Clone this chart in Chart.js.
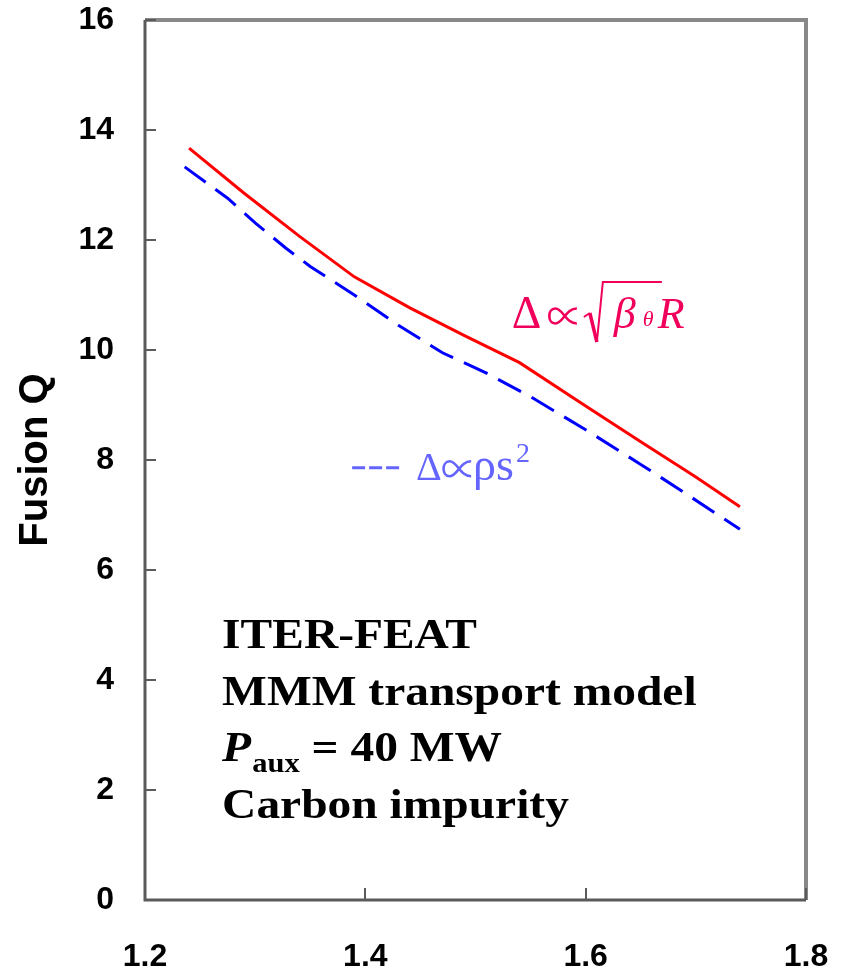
<!DOCTYPE html>
<html>
<head>
<meta charset="utf-8">
<script src="https://cdn.jsdelivr.net/npm/chart.js@4.4.1/dist/chart.umd.min.js"></script>
<style>
  html, body { margin: 0; padding: 0; background: #fff; }
  #wrap { width: 842px; height: 970px; }
</style>
</head>
<body>
<div id="wrap"><canvas id="fusionChart" width="842" height="970"></canvas></div>
<script>
// solid red curve: Delta ~ sqrt(beta_theta) R
const redX = [1.24, 1.29, 1.34, 1.39, 1.44, 1.49, 1.54, 1.60, 1.65, 1.70, 1.74];
const redQ = [13.67, 12.85, 12.07, 11.33, 10.77, 10.26, 9.77, 8.98, 8.33, 7.69, 7.15];

// dashed blue curve: Delta ~ rho s^2
const blueX = [1.236, 1.275, 1.30, 1.328, 1.35, 1.39, 1.43, 1.47, 1.51, 1.55, 1.60, 1.65, 1.69, 1.74];
const blueQ = [13.33, 12.76, 12.31, 11.85, 11.52, 11.00, 10.45, 9.95, 9.58, 9.15, 8.55, 7.92, 7.40, 6.74];

const xTicks = [1.2, 1.4, 1.6, 1.8];
const yTicks = [0, 2, 4, 6, 8, 10, 12, 14, 16];

const yTitle = 'Fusion Q';
const infoLines = ['ITER-FEAT', 'MMM transport model', 'P|aux| = 40 MW', 'Carbon impurity'];

const SANS = "'Liberation Sans', Arial, sans-serif";
const SERIF = "'Liberation Serif', 'Times New Roman', 'DejaVu Serif', serif";

const toPoints = (xs, ys) => xs.map((x, i) => ({ x: x, y: ys[i] }));

// thin "proportional to" sign, the serif fonts here don't have a nice one
const drawProp = (ctx, x, cy, w, h, lw) => {
  ctx.save();
  ctx.lineWidth = lw;
  ctx.beginPath();
  ctx.moveTo(x + w, cy - h);
  ctx.bezierCurveTo(x + w * 0.62, cy - h, x + w * 0.52, cy + h, x + w * 0.26, cy + h);
  ctx.bezierCurveTo(x - w * 0.02, cy + h, x - w * 0.02, cy - h, x + w * 0.26, cy - h);
  ctx.bezierCurveTo(x + w * 0.52, cy - h, x + w * 0.62, cy + h, x + w, cy + h);
  ctx.stroke();
  ctx.restore();
};

// frame + inward ticks
const framePlugin = {
  id: 'frame',
  afterDatasetsDraw(chart) {
    const { ctx, chartArea: a, scales } = chart;
    ctx.save();
    ctx.strokeStyle = '#888';
    ctx.lineWidth = 4;
    ctx.beginPath();
    ctx.moveTo(a.left, a.top);
    ctx.lineTo(a.right, a.top);
    ctx.lineTo(a.right, a.bottom);
    ctx.stroke();

    ctx.strokeStyle = '#5a5a5a';
    ctx.lineWidth = 3;
    ctx.beginPath();
    ctx.moveTo(a.left, a.top);
    ctx.lineTo(a.left, a.bottom);
    ctx.lineTo(a.right, a.bottom);
    ctx.stroke();

    ctx.lineWidth = 2;
    yTicks.forEach(v => {
      const y = Math.round(scales.y.getPixelForValue(v));
      ctx.beginPath();
      ctx.moveTo(a.left, y);
      ctx.lineTo(a.left + 11, y);
      ctx.stroke();
    });
    xTicks.forEach(v => {
      const x = Math.round(scales.x.getPixelForValue(v));
      ctx.beginPath();
      ctx.moveTo(x, a.bottom);
      ctx.lineTo(x, a.bottom - 12);
      ctx.stroke();
    });
    ctx.restore();
  }
};

// text labels inside the plot
const labelPlugin = {
  id: 'labels',
  afterDraw(chart) {
    const { ctx, scales } = chart;
    const px = v => scales.x.getPixelForValue(v);
    const py = v => scales.y.getPixelForValue(v);
    ctx.save();
    ctx.textBaseline = 'alphabetic';
    ctx.textAlign = 'left';

    // red formula
    let x = px(1.533), y = py(10.4);
    ctx.fillStyle = '#f0005a';
    ctx.strokeStyle = '#f0005a';
    ctx.font = `46px ${SERIF}`;
    ctx.fillText('\u0394', x, y);
    drawProp(ctx, x + 36, y - 12, 29, 7.5, 2.6);
    ctx.lineWidth = 2;
    ctx.beginPath();
    ctx.moveTo(x + 72, y - 11);
    ctx.lineTo(x + 78, y - 15);
    ctx.stroke();
    ctx.lineWidth = 3.5;
    ctx.beginPath();
    ctx.moveTo(x + 78, y - 15);
    ctx.lineTo(x + 85, y + 14);
    ctx.stroke();
    ctx.lineWidth = 2;
    ctx.beginPath();
    ctx.moveTo(x + 85, y + 14);
    ctx.lineTo(x + 91, y - 46);
    ctx.lineTo(x + 150, y - 46);
    ctx.stroke();
    ctx.font = `italic 44px ${SERIF}`;
    ctx.fillText('\u03B2', x + 102, y);
    ctx.font = `italic 22px ${SERIF}`;
    ctx.fillText('\u03B8', x + 131, y - 2);
    ctx.font = `italic 44px ${SERIF}`;
    ctx.fillText('R', x + 146, y);

    // blue formula
    x = px(1.388); y = py(7.64);
    ctx.fillStyle = '#6464ff';
    ctx.strokeStyle = '#6464ff';
    ctx.lineWidth = 3;
    ctx.setLineDash([13, 4]);
    ctx.beginPath();
    ctx.moveTo(x, y - 12);
    ctx.lineTo(x + 47, y - 12);
    ctx.stroke();
    ctx.setLineDash([]);
    ctx.font = `40px ${SERIF}`;
    ctx.fillText('\u0394', x + 64, y);
    drawProp(ctx, x + 90, y - 11, 29, 7.5, 2.6);
    ctx.font = `46px ${SERIF}`;
    ctx.fillText('\u03C1s', x + 121, y);
    const w = ctx.measureText('\u03C1s').width;
    ctx.font = `28px ${SERIF}`;
    ctx.fillText('2', x + 121 + w + 2, y - 18);

    // info block
    x = px(1.27); y = py(4.58);
    const sx = 1.13;
    ctx.fillStyle = '#000';
    infoLines.forEach((line, i) => {
      ctx.save();
      ctx.translate(x, y + i * 56.5);
      ctx.scale(sx, 1);
      if (line.includes('|')) {
        const [p, sub, rest] = line.split('|');
        ctx.font = `italic bold 42px ${SERIF}`;
        ctx.fillText(p, 0, 0);
        let cx = ctx.measureText(p).width + 1;
        ctx.font = `bold 27px ${SERIF}`;
        ctx.fillText(sub, cx, 11);
        cx += ctx.measureText(sub).width;
        ctx.font = `bold 42px ${SERIF}`;
        ctx.fillText(rest, cx, 0);
      } else {
        ctx.font = `bold 42px ${SERIF}`;
        ctx.fillText(line, 0, 0);
      }
      ctx.restore();
    });
    ctx.restore();
  }
};

const tickFont = { family: SANS, size: 32, weight: 'bold' };

const noPad = s => {
  s.paddingTop = 0;
  s.paddingBottom = 0;
  s.paddingLeft = 0;
  s.paddingRight = 0;
};

new Chart(document.getElementById('fusionChart'), {
  type: 'line',
  data: {
    datasets: [
      {
        label: 'sqrt(beta) R',
        data: toPoints(redX, redQ),
        borderColor: '#ff0000',
        borderWidth: 3,
        pointRadius: 0,
        tension: 0,
        fill: false
      },
      {
        label: 'rho s^2',
        data: toPoints(blueX, blueQ),
        borderColor: '#0000ff',
        borderWidth: 3,
        borderDash: [26, 12],
        pointRadius: 0,
        tension: 0,
        fill: false
      }
    ]
  },
  options: {
    responsive: false,
    devicePixelRatio: 1,
    animation: false,
    layout: { padding: { top: 20, right: 36, left: 0, bottom: 0 } },
    plugins: {
      legend: { display: false },
      tooltip: { enabled: false }
    },
    scales: {
      x: {
        type: 'linear',
        min: 1.2,
        max: 1.8,
        afterBuildTicks: s => { s.ticks = xTicks.map(v => ({ value: v })); },
        afterFit: s => { s.height = 70; noPad(s); },
        grid: { display: false, drawTicks: false },
        border: { display: false },
        ticks: {
          font: tickFont,
          color: '#000',
          padding: 38,
          maxRotation: 0,
          autoSkip: false,
          callback: v => Number(v).toFixed(1)
        }
      },
      y: {
        min: 0,
        max: 16,
        afterBuildTicks: s => { s.ticks = yTicks.map(v => ({ value: v })); },
        afterFit: s => { s.width = 145; noPad(s); },
        grid: { display: false, drawTicks: false },
        border: { display: false },
        ticks: {
          font: tickFont,
          color: '#000',
          padding: 31,
          autoSkip: false
        },
        title: {
          display: true,
          text: yTitle,
          color: '#000',
          font: { family: SANS, size: 40, weight: 'bold' },
          padding: { top: 12, bottom: 0 }
        }
      }
    }
  },
  plugins: [framePlugin, labelPlugin]
});
</script>
</body>
</html>
